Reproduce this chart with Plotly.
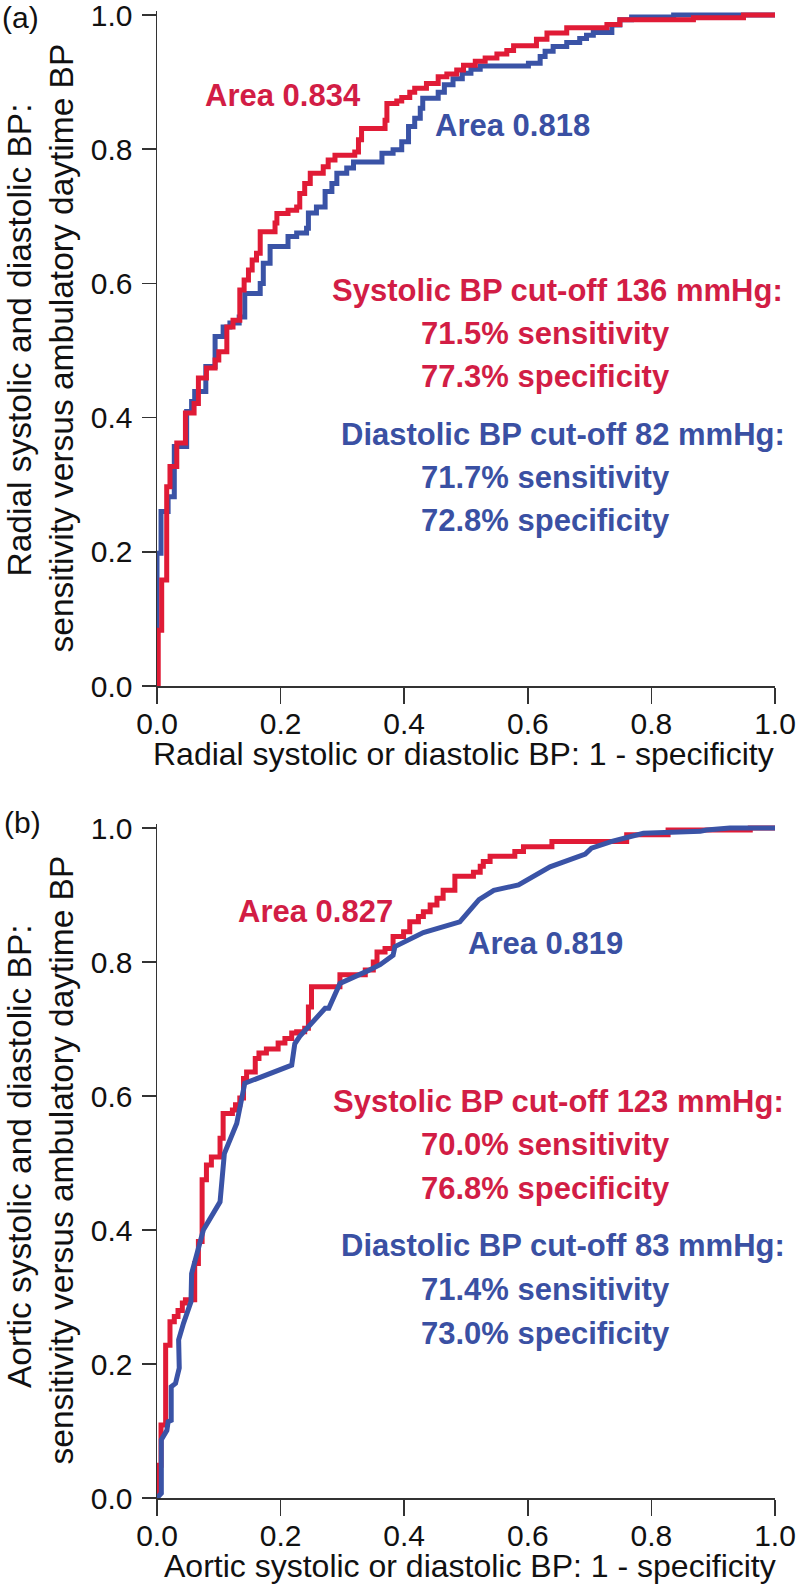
import plotly.graph_objects as go

# ---------------- data ----------------
# Panel (a): radial BP ROC curves (step curves)
radial_sys_fpr = [0, 0.002, 0.0076, 0.0157, 0.021, 0.032, 0.046, 0.060, 0.067, 0.080,
                  0.094, 0.100, 0.113, 0.123, 0.134, 0.141, 0.148, 0.154, 0.161, 0.167,
                  0.191, 0.194, 0.212, 0.226, 0.231, 0.239, 0.248, 0.269, 0.277, 0.288,
                  0.320, 0.326, 0.331, 0.369, 0.372, 0.388, 0.396, 0.409, 0.417, 0.436,
                  0.455, 0.469, 0.485, 0.496, 0.515, 0.531, 0.550, 0.566, 0.577, 0.614,
                  0.631, 0.663, 0.728, 0.749, 0.868, 0.949, 1.0]
radial_sys_tpr = [0, 0.083, 0.158, 0.297, 0.327, 0.362, 0.407, 0.421, 0.459, 0.474,
                  0.486, 0.498, 0.535, 0.545, 0.590, 0.605, 0.620, 0.635, 0.645, 0.677,
                  0.690, 0.704, 0.709, 0.714, 0.734, 0.749, 0.764, 0.774, 0.784, 0.791,
                  0.796, 0.814, 0.831, 0.843, 0.868, 0.872, 0.877, 0.885, 0.891, 0.898,
                  0.908, 0.912, 0.918, 0.925, 0.931, 0.936, 0.942, 0.947, 0.954, 0.964,
                  0.973, 0.981, 0.986, 0.993, 0.996, 1.0, 1.0]

radial_dia_fpr = [0, 0.0, 0.0065, 0.018, 0.028, 0.048, 0.056, 0.061, 0.079, 0.094,
                  0.107, 0.118, 0.133, 0.142, 0.167, 0.172, 0.183, 0.212, 0.226, 0.242,
                  0.245, 0.258, 0.272, 0.283, 0.291, 0.307, 0.318, 0.364, 0.382, 0.396,
                  0.407, 0.417, 0.426, 0.430, 0.455, 0.465, 0.479, 0.494, 0.508, 0.523,
                  0.601, 0.620, 0.628, 0.641, 0.663, 0.684, 0.695, 0.706, 0.736, 0.749,
                  0.768, 0.836, 1.0]
radial_dia_tpr = [0, 0.198, 0.260, 0.282, 0.357, 0.409, 0.424, 0.439, 0.476, 0.521,
                  0.535, 0.541, 0.550, 0.585, 0.600, 0.630, 0.655, 0.670, 0.675, 0.682,
                  0.705, 0.714, 0.737, 0.749, 0.764, 0.772, 0.781, 0.794, 0.799, 0.811,
                  0.834, 0.846, 0.861, 0.876, 0.885, 0.896, 0.905, 0.913, 0.919, 0.924,
                  0.928, 0.938, 0.946, 0.953, 0.959, 0.965, 0.970, 0.974, 0.985, 0.993,
                  0.997, 1.0, 1.0]

# Panel (b): aortic BP ROC curves
aortic_sys_fpr = [0, 0.0, 0.0065, 0.014, 0.021, 0.028, 0.034, 0.041, 0.046, 0.061,
                  0.067, 0.073, 0.080, 0.088, 0.102, 0.107, 0.122, 0.127, 0.134, 0.140,
                  0.145, 0.159, 0.165, 0.177, 0.196, 0.207, 0.218, 0.226, 0.239, 0.245,
                  0.250, 0.296, 0.337, 0.350, 0.356, 0.369, 0.382, 0.399, 0.409, 0.423,
                  0.431, 0.442, 0.453, 0.463, 0.482, 0.512, 0.523, 0.528, 0.539, 0.579,
                  0.593, 0.639, 0.760, 0.827, 0.960, 1.0]
aortic_sys_tpr = [0, 0.049, 0.109, 0.228, 0.263, 0.271, 0.280, 0.291, 0.296, 0.350,
                  0.383, 0.475, 0.497, 0.509, 0.537, 0.574, 0.579, 0.587, 0.597, 0.626,
                  0.636, 0.656, 0.664, 0.670, 0.679, 0.686, 0.694, 0.696, 0.701, 0.733,
                  0.763, 0.781, 0.788, 0.800, 0.815, 0.820, 0.838, 0.845, 0.860, 0.868,
                  0.875, 0.885, 0.895, 0.907, 0.928, 0.934, 0.943, 0.950, 0.958, 0.965,
                  0.972, 0.980, 0.990, 0.997, 1.0, 1.0]

aortic_dia_fpr = [0, 0.007, 0.007, 0.016, 0.018, 0.023, 0.023, 0.030, 0.036, 0.035,
                  0.043, 0.055, 0.056, 0.064, 0.075, 0.102, 0.109, 0.129, 0.142, 0.218,
                  0.223, 0.231, 0.272, 0.278, 0.296, 0.339, 0.361, 0.382, 0.385, 0.431,
                  0.490, 0.521, 0.545, 0.585, 0.636, 0.693, 0.703, 0.736, 0.763, 0.787,
                  0.879, 0.889, 0.927, 1.0]
aortic_dia_tpr = [0, 0.007, 0.087, 0.101, 0.114, 0.116, 0.166, 0.171, 0.194, 0.236,
                  0.261, 0.293, 0.335, 0.360, 0.400, 0.442, 0.514, 0.559, 0.619, 0.646,
                  0.678, 0.689, 0.731, 0.731, 0.768, 0.786, 0.796, 0.810, 0.823, 0.844,
                  0.860, 0.893, 0.907, 0.915, 0.942, 0.961, 0.970, 0.980, 0.987, 0.992,
                  0.995, 0.997, 1.0, 1.0]

tick_vals = [0.0, 0.2, 0.4, 0.6, 0.8, 1.0]
tick_text = ["0.0", "0.2", "0.4", "0.6", "0.8", "1.0"]

panel_labels = ["(a)", "(b)"]
x_titles = ["Radial systolic or diastolic BP: 1 - specificity",
            "Aortic systolic or diastolic BP: 1 - specificity"]
y_titles_line1 = ["Radial systolic and diastolic BP:", "Aortic systolic and diastolic BP:"]
y_title_line2 = "sensitivity versus ambulatory daytime BP"
sys_area = ["Area 0.834", "Area 0.827"]
dia_area = ["Area 0.818", "Area 0.819"]
sys_text = [["Systolic BP cut-off 136 mmHg:", "71.5% sensitivity", "77.3% specificity"],
            ["Systolic BP cut-off 123 mmHg:", "70.0% sensitivity", "76.8% specificity"]]
dia_text = [["Diastolic BP cut-off 82 mmHg:", "71.7% sensitivity", "72.8% specificity"],
            ["Diastolic BP cut-off 83 mmHg:", "71.4% sensitivity", "73.0% specificity"]]

# ---------------- styling / layout ----------------
W, H = 800, 1587
RED = "#E01B36"
BLUE = "#3A53A6"
RED_TXT = "#D21D45"
BLUE_TXT = "#3A50A3"
AX = "#333333"
FONT = "Liberation Sans, Arial, sans-serif"


def px_x(px):
    return px / W


def px_y(py):
    return 1 - py / H


X0, X1 = 157, 775
panels = [dict(y0=686, top=686 - 1.006 * 671),
          dict(y0=1498, top=1498 - 1.006 * 670)]

fig = go.Figure()

# panel (a): blue beneath red
fig.add_trace(go.Scatter(x=radial_dia_fpr, y=radial_dia_tpr, mode="lines",
                         line=dict(color=BLUE, width=5, shape="hv"),
                         xaxis="x", yaxis="y", hoverinfo="skip", showlegend=False))
fig.add_trace(go.Scatter(x=radial_sys_fpr, y=radial_sys_tpr, mode="lines",
                         line=dict(color=RED, width=5, shape="hv"),
                         xaxis="x", yaxis="y", hoverinfo="skip", showlegend=False))
# panel (b): red beneath blue
fig.add_trace(go.Scatter(x=aortic_sys_fpr, y=aortic_sys_tpr, mode="lines",
                         line=dict(color=RED, width=5, shape="hv"),
                         xaxis="x2", yaxis="y2", hoverinfo="skip", showlegend=False))
fig.add_trace(go.Scatter(x=aortic_dia_fpr, y=aortic_dia_tpr, mode="lines",
                         line=dict(color=BLUE, width=5, shape="linear"),
                         xaxis="x2", yaxis="y2", hoverinfo="skip", showlegend=False))

common = dict(showline=True, linecolor=AX, linewidth=1.5, ticks="outside",
              tickcolor=AX, tickwidth=1.5, tickvals=tick_vals, ticktext=tick_text,
              tickfont=dict(family=FONT, size=30, color="#111111"),
              showgrid=False, zeroline=False, mirror=False, fixedrange=True,
              automargin=False, ticklabeloverflow="allow")

layout = dict(width=W, height=H, autosize=False,
              margin=dict(l=0, r=0, t=0, b=0, pad=0),
              paper_bgcolor="white", plot_bgcolor="white",
              showlegend=False)

for i, p in enumerate(panels):
    sx = "" if i == 0 else "2"
    layout["xaxis" + sx] = dict(common, domain=[px_x(X0), px_x(X1)], range=[0, 1],
                                anchor="y" + sx, ticklen=16, ticklabelstandoff=-6)
    layout["yaxis" + sx] = dict(common, domain=[px_y(p["y0"]), px_y(p["top"])],
                                range=[0, 1.006], anchor="x" + sx, ticklen=14,
                                ticklabelstandoff=3)

ann = []


def text(t, x, y, size, color, xanchor="left", bold=False, angle=0, yanchor="middle"):
    ann.append(dict(text=("<b>%s</b>" % t) if bold else t,
                    x=px_x(x), y=px_y(y), xref="paper", yref="paper",
                    xanchor=xanchor, yanchor=yanchor, showarrow=False,
                    textangle=angle, borderpad=0,
                    font=dict(family=FONT, size=size, color=color)))


pos = [
    dict(lab=(1, 0), sa=(204, 95), da=(434, 125),
         sys=[(331, 291), (420, 334), (420, 376)],
         dia=[(340, 434), (420, 477), (420, 521)],
         xt=(464, 754), y1=(19, 103), y2=(61, 43)),
    dict(lab=(3, 805), sa=(237, 911), da=(467, 943),
         sys=[(332, 1101), (420, 1144), (420, 1188)],
         dia=[(340, 1245), (420, 1289), (420, 1333)],
         xt=(470, 1566), y1=(19, 923), y2=(61, 855)),
]

for i, q in enumerate(pos):
    text(panel_labels[i], q["lab"][0], q["lab"][1], 30, "#111111", yanchor="top")
    text(sys_area[i], q["sa"][0], q["sa"][1], 31, RED_TXT, bold=True)
    text(dia_area[i], q["da"][0], q["da"][1], 31, BLUE_TXT, bold=True)
    for t, (x, y) in zip(sys_text[i], q["sys"]):
        text(t, x, y, 31, RED_TXT, bold=True)
    for t, (x, y) in zip(dia_text[i], q["dia"]):
        text(t, x, y, 31, BLUE_TXT, bold=True)
    text(x_titles[i], q["xt"][0], q["xt"][1], 32, "#111111", xanchor="center")
    text(y_titles_line1[i], q["y1"][0], q["y1"][1], 33.5, "#111111",
         xanchor="center", angle=-90, yanchor="top")
    text(y_title_line2, q["y2"][0], q["y2"][1], 33.5, "#111111",
         xanchor="center", angle=-90, yanchor="top")

layout["annotations"] = ann
fig.update_layout(**layout)
fig.write_html("out.html",
               config={"displayModeBar": False, "staticPlot": True},
               post_script="document.body.style.margin='0px';"
                           "document.body.style.overflow='hidden';")
